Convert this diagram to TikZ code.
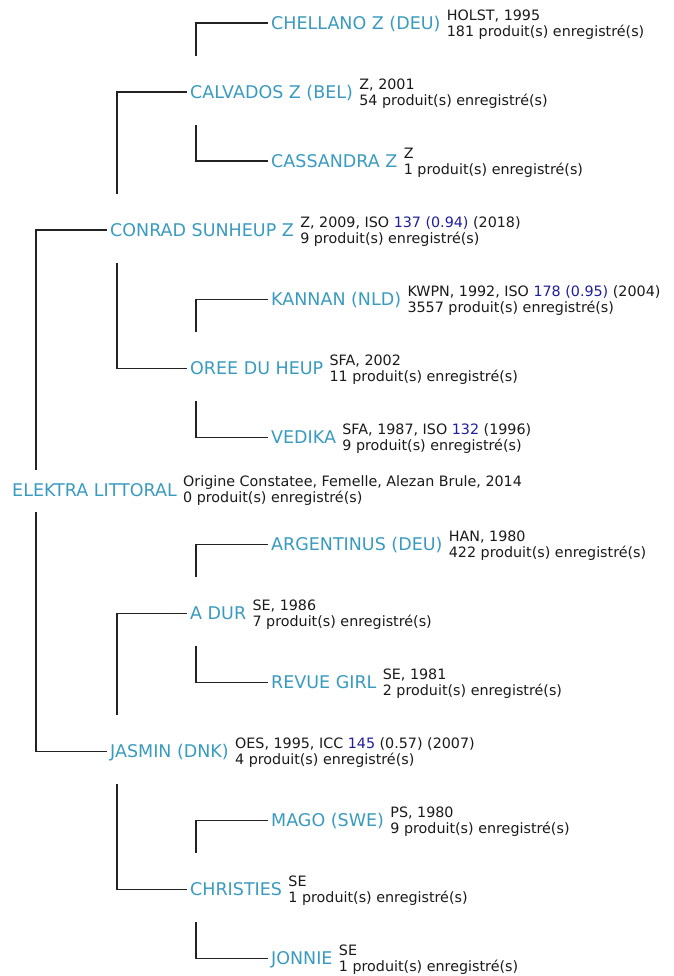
\documentclass[tikz,border=0pt]{standalone}
\usepackage{fontspec}
\setmainfont{DejaVu Sans}
\definecolor{namec}{HTML}{3A9BC0}
\definecolor{numc}{HTML}{1F1F9E}
\definecolor{txtc}{HTML}{1A1A1A}
\definecolor{linec}{HTML}{222222}
\newcommand{\hlnum}[1]{\textcolor{numc}{#1}}
\tikzset{
  nm/.style={anchor=base west, inner sep=0pt, text height=14pt, text depth=2pt, text=namec, font=\fontsize{17.5}{20}\selectfont},
  inf/.style={anchor=base west, inner sep=0pt, text=txtc, font=\fontsize{14.3}{16}\selectfont},
  conn/.style={draw=linec, line width=1.8pt},
}
\begin{document}
\begin{tikzpicture}[x=1pt,y=-1pt]
\useasboundingbox[fill=white] (0,0) rectangle (673,976);
% names (base at centre + 6.4)
\node[nm] (chel) at (271, 29.4) {CHELLANO Z (DEU)};
\node[nm] (calv) at (190, 98.4) {CALVADOS Z (BEL)};
\node[nm] (cass) at (271, 167.4) {CASSANDRA Z};
\node[nm] (conr) at (110, 236.4) {CONRAD SUNHEUP Z};
\node[nm] (kann) at (271, 305.4) {KANNAN (NLD)};
\node[nm] (oree) at (190, 374.4) {OREE DU HEUP};
\node[nm] (vedi) at (271, 443.4) {VEDIKA};
\node[nm] (elek) at (12, 496.4) {ELEKTRA LITTORAL};
\node[nm] (arge) at (271, 550.4) {ARGENTINUS (DEU)};
\node[nm] (adur) at (190, 619.4) {A DUR};
\node[nm] (revu) at (271, 688.4) {REVUE GIRL};
\node[nm] (jasm) at (110, 757.4) {JASMIN (DNK)};
\node[nm] (mago) at (271, 826.4) {MAGO (SWE)};
\node[nm] (chri) at (190, 895.4) {CHRISTIES};
\node[nm] (jonn) at (271, 964.4) {JONNIE};
% info lines
\foreach \n/\a/\b in {
  chel/{HOLST, 1995}/{181 produit(s) enregistré(s)},
  calv/{Z, 2001}/{54 produit(s) enregistré(s)},
  cass/{Z}/{1 produit(s) enregistré(s)},
  conr/{Z, 2009, ISO \hlnum{137 (0.94)} (2018)}/{9 produit(s) enregistré(s)},
  kann/{KWPN, 1992, ISO \hlnum{178 (0.95)} (2004)}/{3557 produit(s) enregistré(s)},
  oree/{SFA, 2002}/{11 produit(s) enregistré(s)},
  vedi/{SFA, 1987, ISO \hlnum{132} (1996)}/{9 produit(s) enregistré(s)},
  arge/{HAN, 1980}/{422 produit(s) enregistré(s)},
  adur/{SE, 1986}/{7 produit(s) enregistré(s)},
  revu/{SE, 1981}/{2 produit(s) enregistré(s)},
  jasm/{OES, 1995, ICC \hlnum{145} (0.57) (2007)}/{4 produit(s) enregistré(s)},
  mago/{PS, 1980}/{9 produit(s) enregistré(s)},
  chri/{SE}/{1 produit(s) enregistré(s)},
  jonn/{SE}/{1 produit(s) enregistré(s)}}{
  \node[inf] (\n-ia) at ([xshift=6pt,yshift=9pt]\n.base east) {\a};
  \node[inf] (\n-ib) at ([xshift=6pt,yshift=-7pt]\n.base east) {\b};
}
\node[inf] (elek-ia) at ([xshift=6pt,yshift=10pt]elek.base east) {Origine Constatee, Femelle, Alezan Brule, 2014};
\node[inf] (elek-ib) at ([xshift=6pt,yshift=-6pt]elek.base east) {0 produit(s) enregistré(s)};
% connector end points
\coordinate (elek-t) at (36, 470);
\coordinate (elek-b) at (36, 512);
\coordinate (conr-t) at (117, 194);
\coordinate (conr-b) at (117, 263);
\coordinate (jasm-t) at (117, 715);
\coordinate (jasm-b) at (117, 784);
\coordinate (calv-t) at (196, 56);
\coordinate (calv-b) at (196, 125);
\coordinate (oree-t) at (196, 332);
\coordinate (oree-b) at (196, 401);
\coordinate (adur-t) at (196, 577);
\coordinate (adur-b) at (196, 646);
\coordinate (chri-t) at (196, 853);
\coordinate (chri-b) at (196, 922);
% connectors
\foreach \p/\c in {elek-t/conr, elek-b/jasm, conr-t/calv, conr-b/oree, jasm-t/adur, jasm-b/chri,
  calv-t/chel, calv-b/cass, oree-t/kann, oree-b/vedi, adur-t/arge, adur-b/revu, chri-t/mago, chri-b/jonn}{
  \draw[conn] (\p) |- ([xshift=-3pt]\c.west);
}
\end{tikzpicture}
\end{document}
